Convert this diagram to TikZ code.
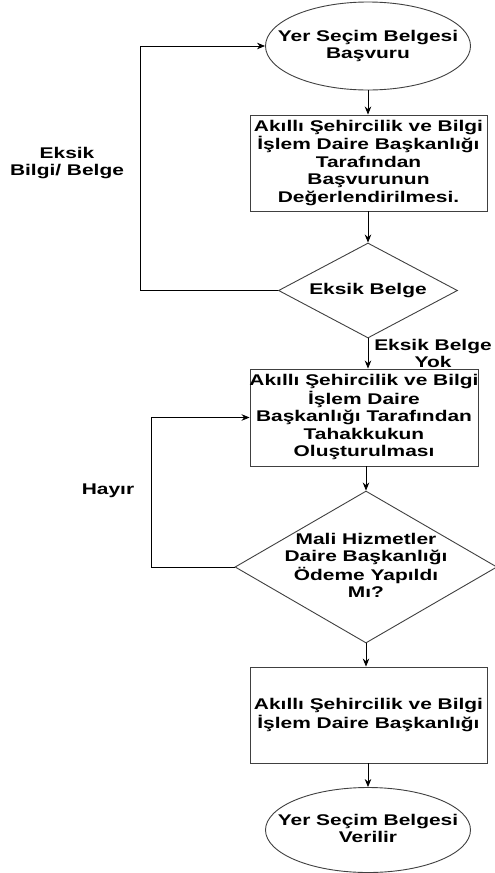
\documentclass[tikz,border=0pt]{standalone}
\usepackage{fontspec}
\setmainfont{Liberation Sans}
\usepackage{graphicx}
\usetikzlibrary{shapes.geometric,arrows.meta}
\newcommand\tx[1]{\smash{\raisebox{-3.9pt}{\makebox[0pt]{\scalebox{1.35}[1]{\begin{tabular}{@{}c@{}}#1\end{tabular}}}}}}
\tikzset{
  base/.style={draw=black!75, line width=0.9pt, inner sep=0pt, font=\fontsize{15.5}{17.5}\selectfont\bfseries},
  termbox/.style={base, ellipse, minimum width=205pt, minimum height=88pt},
  procbox/.style={base, rectangle, minimum width=237pt, minimum height=96pt},
  decbox/.style={base, diamond},
  lbl/.style={inner sep=0pt, font=\fontsize{15.5}{17.5}\selectfont\bfseries},
  arr/.style={-{Stealth[length=8pt,width=6.5pt]}, line width=0.8pt, draw=black}
}
\begin{document}
\begin{tikzpicture}[x=1pt,y=-1pt]
\useasboundingbox (0,0) rectangle (495,873);
\fill[white] (0,0) rectangle (495,873);
\node[termbox] (e1) at (368,46) {\tx{Yer Seçim Belgesi\\Başvuru}};
\node[procbox] (b1) at (368.5,163) {\tx{Akıllı Şehircilik ve Bilgi\\İşlem Daire Başkanlığı\\Tarafından\\Başvurunun\\Değerlendirilmesi.}};
\node[decbox, minimum width=179pt, minimum height=95pt] (d1) at (368,290.5) {\tx{Eksik Belge}};
\node[procbox, minimum width=228pt, minimum height=97pt] (b2) at (364,417.5) {\tx{Akıllı Şehircilik ve Bilgi\\İşlem Daire\\Başkanlığı Tarafından\\Tahakkukun\\Oluşturulması}};
\node[decbox, minimum width=262pt, minimum height=152pt] (d2) at (366,567) {\tx{Mali Hizmetler\\Daire Başkanlığı\\Ödeme Yapıldı\\Mı?}};
\node[procbox] (b3) at (368.5,715) {\tx{Akıllı Şehircilik ve Bilgi\\İşlem Daire Başkanlığı}};
\node[termbox, minimum height=85pt] (e2) at (368,830) {\tx{Yer Seçim Belgesi\\Verilir}};

\draw[arr] (e1.south) -- (e1.south |- b1.north);
\draw[arr] (b1.south -| d1.north) -- (d1.north);
\draw[arr] (d1.south) -- (d1.south |- b2.north);
\draw[arr] (b2.south -| d2.north) -- (d2.north);
\draw[arr] (d2.south) -- (d2.south |- b3.north);
\draw[arr] (b3.south -| e2.north) -- (e2.north);

\coordinate (c1) at (140,0);
\coordinate (c2) at (151,0);
\draw[arr] (d1.west) -- (d1.west -| c1) |- (e1.west);
\draw[arr] (d2.west) -- (d2.west -| c2) |- (b2.west);

\node[lbl] (l1) at (67,163) {\tx{Eksik\\Bilgi/ Belge}};
\node[lbl] (l2) at (433,355) {\tx{Eksik Belge\\Yok}};
\node[lbl] (l3) at (108,491) {\tx{Hayır}};
\end{tikzpicture}
\end{document}
